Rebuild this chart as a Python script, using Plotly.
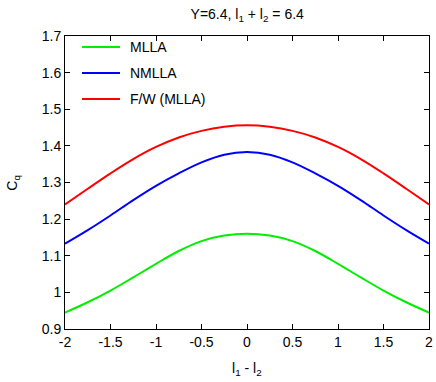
import plotly.graph_objects as go

x_vals = [-2, -1.75, -1.5, -1.25, -1, -0.75, -0.5, -0.25, 0, 0.25, 0.5, 0.75, 1, 1.25, 1.5, 1.75, 2]
mlla = [0.945, 0.973, 1.005, 1.041, 1.078, 1.113, 1.140, 1.155, 1.160, 1.155, 1.140, 1.113, 1.078, 1.041, 1.005, 0.973, 0.945]
nmlla = [1.133, 1.170, 1.210, 1.252, 1.291, 1.325, 1.355, 1.376, 1.383, 1.376, 1.355, 1.325, 1.291, 1.252, 1.210, 1.170, 1.133]
fw_mlla = [1.240, 1.283, 1.325, 1.364, 1.397, 1.423, 1.441, 1.452, 1.456, 1.452, 1.441, 1.423, 1.397, 1.364, 1.325, 1.283, 1.240]

series = [("MLLA", mlla, "#00ee00"), ("NMLLA", nmlla, "#0000ff"), ("F/W (MLLA)", fw_mlla, "#ff0000")]
x_ticks = [-2, -1.5, -1, -0.5, 0, 0.5, 1, 1.5, 2]
x_tick_text = ["-2", "-1.5", "-1", "-0.5", "0", "0.5", "1", "1.5", "2"]
y_ticks = [0.9, 1.0, 1.1, 1.2, 1.3, 1.4, 1.5, 1.6, 1.7]
y_tick_text = ["0.9", "1", "1.1", "1.2", "1.3", "1.4", "1.5", "1.6", "1.7"]

fig = go.Figure()
shapes = []
annotations = []
legend_rows_y = [0.9625, 0.8737, 0.7850]
for i, (name, ys, col) in enumerate(series):
    fig.add_trace(go.Scatter(x=x_vals, y=ys, mode="lines", name=name, showlegend=False,
                             line=dict(color=col, width=2, shape="spline", smoothing=1.0)))
    ly = legend_rows_y[i]
    shapes.append(dict(type="line", xref="paper", yref="paper", x0=0.0467, x1=0.1511, y0=ly, y1=ly,
                       line=dict(color=col, width=2)))
    annotations.append(dict(text=name, xref="paper", yref="paper", x=0.1731, y=ly, xanchor="left",
                            yanchor="middle", showarrow=False, font=dict(size=14)))

annotations += [
    dict(text="l<sub>1</sub> - l<sub>2</sub>", xref="paper", yref="paper", x=0.5, y=-0.1,
         xanchor="center", yanchor="top", showarrow=False, font=dict(size=14)),
    dict(text="C<sub>q</sub>", xref="paper", yref="paper", x=-0.145, y=0.5,
         xanchor="center", yanchor="middle", textangle=-90, showarrow=False, font=dict(size=14)),
]

font = "Liberation Sans, Arial, sans-serif"
fig.update_layout(
    width=436, height=382,
    margin=dict(l=65, r=7, t=36, b=53, autoexpand=False),
    paper_bgcolor="white", plot_bgcolor="white",
    font=dict(family=font, size=14, color="black"),
    title=dict(text="Y=6.4, l<sub>1</sub> + l<sub>2</sub> = 6.4", x=0.567, xanchor="center", y=0.975, yanchor="top",
               font=dict(size=14)),
    showlegend=False,
    xaxis=dict(range=[-2, 2], tickvals=x_ticks, ticktext=x_tick_text, ticks="inside", ticklen=5,
               tickcolor="black", showline=True, linecolor="black", linewidth=1, mirror="ticks",
               showgrid=False, zeroline=False, automargin=False, ticklabeloverflow="allow"),
    yaxis=dict(range=[0.9, 1.7], tickvals=y_ticks, ticktext=y_tick_text, ticks="inside", ticklen=5,
               tickcolor="black", showline=True, linecolor="black", linewidth=1, mirror="ticks",
               showgrid=False, zeroline=False, automargin=False),
    shapes=shapes,
    annotations=annotations,
)
fig.write_html("out.html", post_script="document.body.style.margin='0';",
               config={"displayModeBar": False})
